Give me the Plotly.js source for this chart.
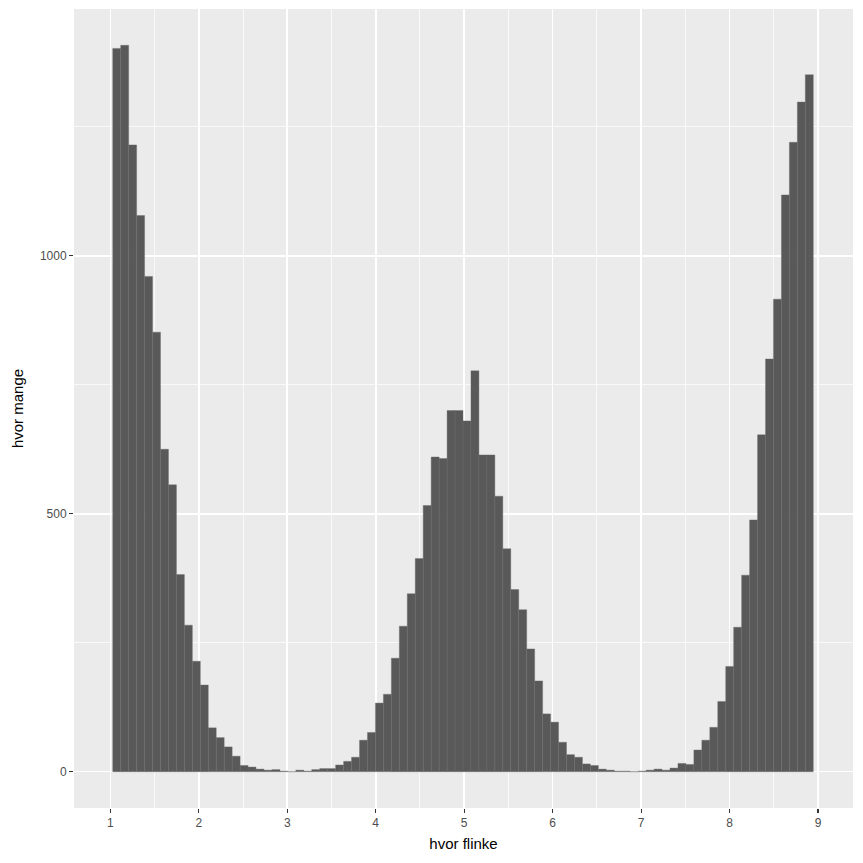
<!DOCTYPE html>
<html>
<head>
<meta charset="utf-8">
<script src="https://cdn.plot.ly/plotly-3.0.1.min.js"></script>
<style>html,body{margin:0;padding:0;background:#fff;}#chart{width:863px;height:863px;}</style>
</head>
<body>
<div id="chart"></div>
<script>
// histogram bins
const binStart = 1.027;
const binWidth = 0.09;
const counts = [
  1402, 1408, 1215, 1078, 960, 852, 625, 556, 382, 284,
  214, 168, 85, 66, 48, 30, 12, 9, 5, 3,
  4, 1, 0, 3, 1, 4, 6, 6, 13, 20,
  28, 61, 76, 133, 150, 220, 282, 345, 413, 516,
  610, 607, 700, 700, 680, 777, 614, 614, 534, 432,
  353, 314, 238, 176, 112, 96, 57, 33, 28, 15,
  12, 5, 3, 1, 1, 0, 1, 3, 5, 3,
  7, 16, 14, 42, 61, 86, 136, 204, 280, 381,
  488, 653, 800, 916, 1118, 1220, 1298, 1351
];
const xTicks = [1, 2, 3, 4, 5, 6, 7, 8, 9];
const yTicks = [0, 500, 1000];
const xTitle = "hvor flinke";
const yTitle = "hvor mange";

const centers = counts.map((c, i) => binStart + (i + 0.5) * binWidth);

const trace = {
  type: 'bar',
  x: centers,
  y: counts,
  width: binWidth,
  marker: {color: '#595959', line: {color: '#6b6b6b', width: 0.4}},
  hoverinfo: 'x+y'
};

const layout = {
  width: 863, height: 863,
  margin: {l: 74, r: 10, t: 9, b: 55},
  paper_bgcolor: '#ffffff',
  plot_bgcolor: '#EBEBEB',
  bargap: 0,
  showlegend: false,
  font: {family: 'Liberation Sans, Arial, sans-serif', color: '#4D4D4D'},
  xaxis: {
    range: [0.589, 9.396],
    tickvals: xTicks,
    ticktext: xTicks.map(String),
    ticks: 'outside', ticklen: 4, tickwidth: 1.1, tickcolor: '#333333',
    tickfont: {size: 12, color: '#4D4D4D'},
    showgrid: true, gridcolor: '#FFFFFF', gridwidth: 1.6,
    minor: {dtick: 0.5, tick0: 0.5, showgrid: true, gridcolor: '#FFFFFF', gridwidth: 0.7, ticks: ''},
    zeroline: false, showline: false,
    title: {text: xTitle, font: {size: 15, color: '#000000'}, standoff: 9}
  },
  yaxis: {
    range: [-70.4, 1478.4],
    tickvals: yTicks,
    ticktext: yTicks.map(String),
    ticks: 'outside', ticklen: 4, tickwidth: 1.1, tickcolor: '#333333',
    tickfont: {size: 12, color: '#4D4D4D'},
    showgrid: true, gridcolor: '#FFFFFF', gridwidth: 1.6,
    minor: {dtick: 250, tick0: 250, showgrid: true, gridcolor: '#FFFFFF', gridwidth: 0.7, ticks: ''},
    zeroline: false, showline: false,
    title: {text: yTitle, font: {size: 15, color: '#000000'}, standoff: 12}
  }
};

Plotly.newPlot('chart', [trace], layout, {displayModeBar: false, staticPlot: true});
</script>
</body>
</html>
